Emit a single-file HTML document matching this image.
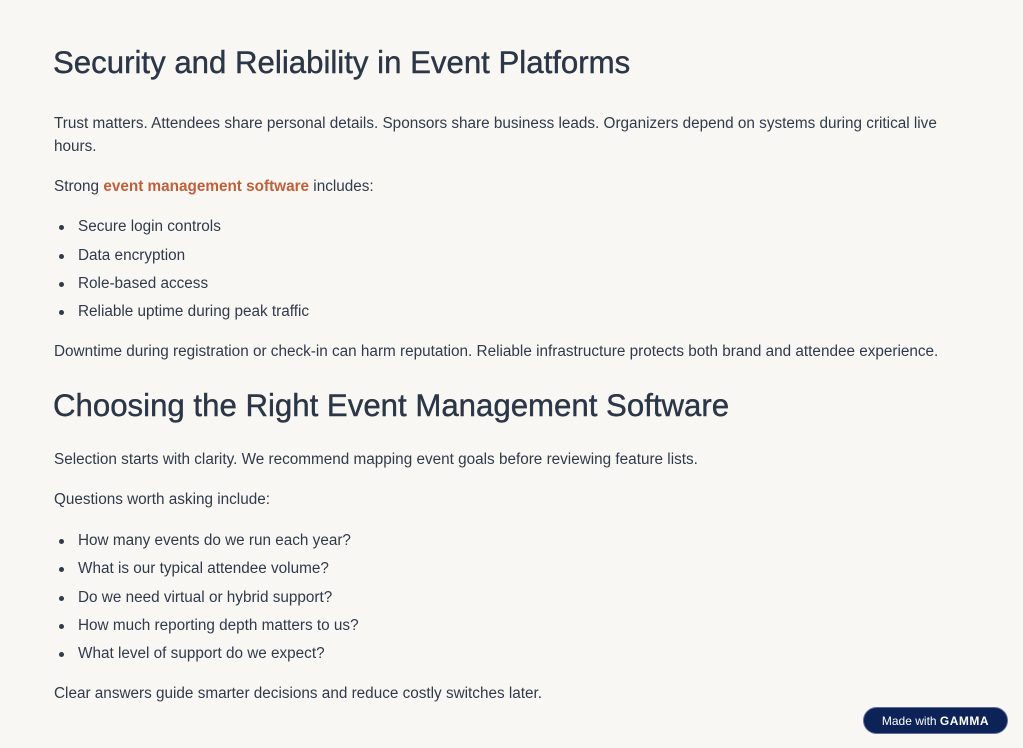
<!DOCTYPE html>
<html><head><meta charset="utf-8"><style>
html,body{margin:0;padding:0}
body{width:1023px;height:748px;background:#f9f7f4;position:relative;overflow:hidden;font-family:"Liberation Sans",sans-serif;color:#2f3a4a}
.t{position:absolute;left:54px;white-space:nowrap;font-size:15.3px;line-height:18px;transform:translateY(-50%);margin-top:1px}
.h{position:absolute;left:53px;white-space:nowrap;font-size:31.2px;line-height:36px;color:#2b3647;transform:translateY(-50%);-webkit-text-stroke:0.4px #2b3647;margin-top:1px}
.b{left:78px}
.b::before{content:"";position:absolute;left:-19px;top:7px;width:5px;height:5px;border-radius:50%;background:#2f3a4a}
.o{color:#c0603a;font-weight:bold}
.badge{position:absolute;left:863px;top:707px;width:145px;height:27px;border-radius:14px;background:#0d2357;border:1px solid #5c6f98;color:#fff;font-size:12px;line-height:26px;text-align:center;box-sizing:border-box}
</style></head><body>
<div class="h" style="top:62px">Security and Reliability in Event Platforms</div>
<div class="t" style="top:123px">Trust matters. Attendees share personal details. Sponsors share business leads. Organizers depend on systems during critical live</div>
<div class="t" style="top:146px">hours.</div>
<div class="t" style="top:186px">Strong <span class="o">event management software</span> includes:</div>
<div class="t b" style="top:226px">Secure login controls</div>
<div class="t b" style="top:255px">Data encryption</div>
<div class="t b" style="top:283px">Role-based access</div>
<div class="t b" style="top:311px">Reliable uptime during peak traffic</div>
<div class="t" style="top:351px">Downtime during registration or check-in can harm reputation. Reliable infrastructure protects both brand and attendee experience.</div>
<div class="h" style="top:405px">Choosing the Right Event Management Software</div>
<div class="t" style="top:459px">Selection starts with clarity. We recommend mapping event goals before reviewing feature lists.</div>
<div class="t" style="top:499px">Questions worth asking include:</div>
<div class="t b" style="top:540px">How many events do we run each year?</div>
<div class="t b" style="top:568px">What is our typical attendee volume?</div>
<div class="t b" style="top:597px">Do we need virtual or hybrid support?</div>
<div class="t b" style="top:625px">How much reporting depth matters to us?</div>
<div class="t b" style="top:653px">What level of support do we expect?</div>
<div class="t" style="top:693px">Clear answers guide smarter decisions and reduce costly switches later.</div>
<div class="badge">Made with <b style="letter-spacing:0.5px">GAMMA</b></div>
</body></html>
